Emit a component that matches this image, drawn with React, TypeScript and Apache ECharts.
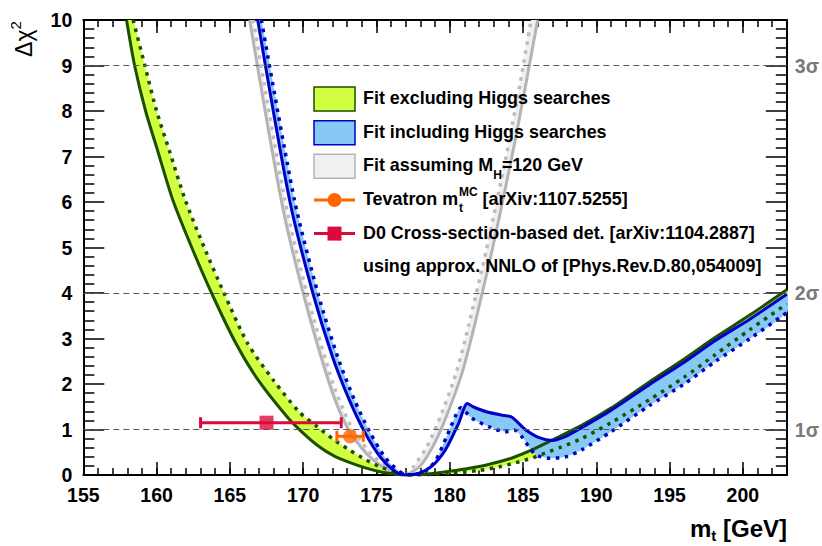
import React, { useEffect, useRef } from 'react';
import * as echarts from 'echarts';

const FONT = '"Liberation Sans", Arial, Helvetica, sans-serif';

// ---- data: [m_t (GeV), delta chi^2] ----
const greenSolid: number[][] = [
  [157.95, 10], [158.5, 9], [159.25, 8], [160.1, 7.1], [161.1, 6.05], [162.4, 5.0], [163.75, 4.0],
  [165.4, 2.9], [166.9, 2.1], [168.9, 1.28], [170.0, 0.92], [171.1, 0.62], [172.1, 0.42], [173.2, 0.27],
  [174.3, 0.15], [175.4, 0.06], [176.3, 0.015], [177.0, 0], [178.0, 0.01], [179.0, 0.04], [180.0, 0.08],
  [181.0, 0.13], [182.5, 0.22], [184.3, 0.38], [185.6, 0.55], [187.0, 0.77], [189.0, 1.09], [191.0, 1.47],
  [193.6, 2.04], [196.0, 2.55], [198.1, 3.02], [200.5, 3.52], [203.0, 4.07],
];
const greenDotted: number[][] = [
  [158.4, 10], [159.2, 9], [160.0, 8], [160.9, 7.1], [161.95, 6.05], [163.25, 5.0], [164.6, 4.0],
  [166.2, 2.9], [168.0, 2.07], [169.75, 1.38], [170.9, 1.08], [172.0, 0.8], [173.15, 0.55], [174.3, 0.33],
  [175.4, 0.16], [176.5, 0.05], [177.5, 0], [178.5, 0.01], [180.0, 0.04], [182.0, 0.1], [183.4, 0.18],
  [184.5, 0.27], [185.6, 0.37], [186.5, 0.48], [187.5, 0.6], [189.0, 0.8], [191.0, 1.15], [193.6, 1.65],
  [196.0, 2.15], [198.1, 2.64], [200.5, 3.2], [203.0, 3.76],
];
const blueSolid: number[][] = [
  [166.9, 10], [169.07, 6.05], [170.66, 4.0], [172.0, 2.6], [173.15, 1.65], [174.2, 0.94], [175.3, 0.38],
  [176.3, 0.07], [177.0, 0], [177.9, 0.04], [178.8, 0.2], [179.7, 0.55], [180.6, 1.13], [181.2, 1.57],
  [181.6, 1.5], [182.5, 1.39], [183.5, 1.32], [184.2, 1.28], [184.6, 1.17], [185.2, 0.99], [186.1, 0.82],
  [187.0, 0.76], [188.0, 0.86], [189.0, 1.04], [191.0, 1.42], [193.6, 1.98], [196.0, 2.48], [198.1, 2.95],
  [200.5, 3.43], [203.0, 3.97],
];
const blueDotted: number[][] = [
  [167.15, 10], [169.4, 6.05], [171.0, 4.0], [172.35, 2.6], [173.5, 1.65], [174.55, 0.94], [175.6, 0.38],
  [176.6, 0.07], [177.3, 0], [178.2, 0.05], [179.0, 0.3], [179.8, 0.85], [180.4, 1.3], [180.75, 1.48],
  [181.5, 1.25], [182.7, 1.06], [183.8, 0.95], [184.4, 0.99], [184.9, 0.85], [185.4, 0.62], [185.9, 0.44],
  [186.8, 0.37], [187.9, 0.4], [189.0, 0.55], [191.0, 0.95], [193.6, 1.52], [196.0, 2.0], [198.1, 2.49],
  [200.5, 3.0], [203.0, 3.57],
];
const graySolid: number[][] = [
  [166.35, 10], [168.5, 6.05], [170.0, 4.0], [171.8, 2.0], [173.0, 1.05], [174.3, 0.48], [175.4, 0.18],
  [176.2, 0.04], [176.8, 0], [177.9, 0.17], [178.8, 0.6], [179.6, 1.15], [180.8, 2.2], [181.7, 3.3],
  [182.9, 4.95], [183.6, 6.0], [184.4, 7.25], [185.2, 8.6], [186.0, 10],
];
const grayDotted: number[][] = [
  [166.6, 10], [168.75, 6.05], [170.25, 4.0], [172.05, 2.0], [173.3, 1.05], [174.6, 0.48], [175.7, 0.18],
  [176.5, 0.04], [177.0, 0], [177.5, 0.17], [178.4, 0.6], [179.2, 1.15], [180.4, 2.2], [181.3, 3.3],
  [182.5, 4.95], [183.2, 6.0], [184.0, 7.25], [184.8, 8.6], [185.55, 10],
];

const tevatronPoint = [173.2, 0.85];
const tevatronRange = [172.3, 174.1];
const d0Point = [167.5, 1.15];
const d0Range = [163.0, 172.6];

const sigmaLevels = [1, 4, 9];
const sigmaLabels = ['1σ', '2σ', '3σ'];

const xMin = 155;
const xMax = 203;
const xLabelMax = 200;

const legendTexts = [
  'Fit excluding Higgs searches',
  'Fit including Higgs searches',
  'Fit assuming M{sub|H}=120 GeV',
  'Tevatron m',
  'D0 Cross-section-based det. [arXiv:1104.2887]',
  'using approx. NNLO of [Phys.Rev.D.80,054009]',
];

// ---- styles ----
const C = {
  greenLine: '#1b5000',
  greenFill: '#d2ff3f',
  blueLine: '#0000c8',
  blueFill: '#86c8f6',
  grayLine: '#b4b4b4',
  grayDot: '#bdbdbd',
  grayFill: '#f0f0f0',
  orange: '#ff6600',
  red: '#dc0a3c',
};

function band(upper: number[][], lower: number[][], fill: string) {
  const poly = upper.concat(lower.slice().reverse());
  return {
    type: 'custom',
    xAxisIndex: 0,
    yAxisIndex: 0,
    clip: true,
    silent: true,
    z: 1,
    data: poly,
    encode: { x: 0, y: 1 },
    renderItem: (params: any, api: any) => {
      if (params.dataIndex !== 0) return null;
      const pts = poly.map((p) => api.coord(p));
      return { type: 'polygon', shape: { points: pts, smooth: 0.25 }, style: { fill, stroke: 'none' } };
    },
  };
}

function curve(data: number[][], color: string, width: number, dotted: boolean, extra: any = {}) {
  return {
    type: 'line',
    xAxisIndex: 0,
    yAxisIndex: 0,
    data,
    symbol: 'none',
    showSymbol: false,
    smooth: 0.25,
    clip: true,
    silent: true,
    z: 3,
    lineStyle: { color, width, type: dotted ? [3.5, 5.5] : 'solid', cap: 'butt' },
    ...extra,
  };
}

function errorBar(point: number[], range: number[], color: string) {
  return {
    type: 'custom',
    xAxisIndex: 0,
    yAxisIndex: 0,
    silent: true,
    z: 5,
    data: [[point[0], point[1], range[0], range[1]]],
    encode: { x: [0, 2, 3], y: 1 },
    renderItem: (params: any, api: any) => {
      const y = api.value(1);
      const a = api.coord([api.value(2), y]);
      const b = api.coord([api.value(3), y]);
      const h = 5.5;
      const st = { stroke: color, lineWidth: 3 };
      return {
        type: 'group',
        children: [
          { type: 'line', shape: { x1: a[0], y1: a[1], x2: b[0], y2: b[1] }, style: st },
          { type: 'line', shape: { x1: a[0], y1: a[1] - h, x2: a[0], y2: a[1] + h }, style: st },
          { type: 'line', shape: { x1: b[0], y1: b[1] - h, x2: b[0], y2: b[1] + h }, style: st },
        ],
      };
    },
  };
}

const tickLabel = { fontSize: 19.5, fontWeight: 700, color: '#000', fontFamily: FONT };
const frameLine = { show: true, lineStyle: { color: '#000', width: 2 } };

function xAxisDef(position: string, major: boolean, labels: boolean) {
  return {
    type: 'value',
    position,
    min: xMin,
    max: xMax,
    interval: major ? 5 : 1,
    axisLine: major ? frameLine : { show: false },
    axisTick: { show: true, inside: true, length: major ? 13 : 7, lineStyle: { color: '#000', width: 1.5 } },
    axisLabel: labels
      ? { ...tickLabel, margin: 10, formatter: (v: number) => (v % 5 === 0 && v <= xLabelMax ? String(v) : '') }
      : { show: false },
    splitLine: { show: false },
  };
}

function yAxisDef(position: string, labels: boolean) {
  return {
    type: 'value',
    position,
    min: 0,
    max: 10,
    interval: 1,
    axisLine: frameLine,
    axisTick: { show: true, inside: true, length: 21, lineStyle: { color: '#000', width: 1.5 } },
    minorTick: { show: true, splitNumber: 5, length: 11, lineStyle: { color: '#000', width: 1.5 } },
    axisLabel: labels
      ? { ...tickLabel, margin: 11 }
      : {
          ...tickLabel,
          color: '#7a7a7a',
          margin: 8,
          formatter: (v: number) => {
            const i = sigmaLevels.indexOf(v);
            return i >= 0 ? sigmaLabels[i] : '';
          },
        },
    splitLine: { show: false },
    minorSplitLine: { show: false },
  };
}

const rowY = [99, 132.7, 166.3, 200, 233.6, 267.2];
const boxX = 314;
const boxW = 41;
const boxH = 24;
const textX = 363;
const legFont = 17.9;
const ZG = 100;

const legendText = (i: number, text: string, extra: any = {}) => ({
  type: 'text',
  x: textX,
  y: rowY[i] - 1,
  z: ZG,
  silent: true,
  style: {
    text,
    fontSize: legFont,
    fontWeight: 'bold',
    fontFamily: FONT,
    fill: '#000',
    align: 'left',
    verticalAlign: 'middle',
    ...extra,
  },
});

const graphic: any[] = [
  // y-axis title
  {
    type: 'text',
    x: 24,
    y: 39,
    z: ZG,
    rotation: Math.PI / 2,
    silent: true,
    style: {
      text: 'Δχ{sup|2}',
      fontSize: 23,
      fontFamily: FONT,
      fill: '#000',
      align: 'center',
      verticalAlign: 'middle',
      lineHeight: 32,
      rich: { sup: { fontSize: 15, fontFamily: FONT, verticalAlign: 'top', lineHeight: 32 } },
    },
  },
  // x-axis title
  {
    type: 'text',
    x: 787,
    y: 528,
    z: ZG,
    silent: true,
    style: {
      text: 'm{sub|t} [GeV]',
      fontSize: 24,
      fontWeight: 'bold',
      fontFamily: FONT,
      fill: '#000',
      align: 'right',
      verticalAlign: 'middle',
      lineHeight: 30,
      rich: { sub: { fontSize: 15, fontWeight: 'bold', fontFamily: FONT, verticalAlign: 'bottom', lineHeight: 30 } },
    },
  },
  // legend boxes
  { type: 'rect', z: ZG, silent: true, shape: { x: boxX, y: rowY[0] - boxH / 2, width: boxW, height: boxH }, style: { fill: C.greenFill, stroke: C.greenLine, lineWidth: 1.5 } },
  { type: 'rect', z: ZG, silent: true, shape: { x: boxX, y: rowY[1] - boxH / 2, width: boxW, height: boxH }, style: { fill: C.blueFill, stroke: C.blueLine, lineWidth: 1.5 } },
  { type: 'rect', z: ZG, silent: true, shape: { x: boxX, y: rowY[2] - boxH / 2, width: boxW, height: boxH }, style: { fill: C.grayFill, stroke: C.grayLine, lineWidth: 1.5 } },
  { type: 'line', z: ZG, silent: true, shape: { x1: boxX, y1: rowY[3], x2: boxX + boxW, y2: rowY[3] }, style: { stroke: C.orange, lineWidth: 3 } },
  { type: 'circle', z: ZG, silent: true, shape: { cx: boxX + boxW / 2, cy: rowY[3], r: 7 }, style: { fill: C.orange } },
  { type: 'line', z: ZG, silent: true, shape: { x1: boxX, y1: rowY[4], x2: boxX + boxW, y2: rowY[4] }, style: { stroke: C.red, lineWidth: 3 } },
  { type: 'rect', z: ZG, silent: true, shape: { x: boxX + boxW / 2 - 7, y: rowY[4] - 7, width: 14, height: 14 }, style: { fill: C.red } },
  legendText(0, legendTexts[0]),
  legendText(1, legendTexts[1]),
  legendText(2, legendTexts[2], {
    lineHeight: 32,
    rich: { sub: { fontSize: 12, fontWeight: 'bold', fontFamily: FONT, verticalAlign: 'bottom', lineHeight: 32 } },
  }),
  legendText(3, legendTexts[3]),
  {
    type: 'text', x: 459, y: rowY[3] + 8, z: ZG, silent: true,
    style: { text: 't', fontSize: 12, fontWeight: 'bold', fontFamily: FONT, fill: '#000', align: 'left', verticalAlign: 'middle' },
  },
  {
    type: 'text', x: 459, y: rowY[3] - 8, z: ZG, silent: true,
    style: { text: 'MC', fontSize: 12, fontWeight: 'bold', fontFamily: FONT, fill: '#000', align: 'left', verticalAlign: 'middle' },
  },
  {
    type: 'text', x: 482.5, y: rowY[3] - 1, z: ZG, silent: true,
    style: { text: '[arXiv:1107.5255]', fontSize: legFont, fontWeight: 'bold', fontFamily: FONT, fill: '#000', align: 'left', verticalAlign: 'middle' },
  },
  legendText(4, legendTexts[4]),
  legendText(5, legendTexts[5]),
];

const option: any = {
  animation: false,
  backgroundColor: '#fff',
  textStyle: { fontFamily: FONT },
  grid: { left: 83.3, right: 34.3, top: 20, bottom: 71, containLabel: false },
  xAxis: [
    xAxisDef('bottom', true, true),
    xAxisDef('bottom', false, false),
    xAxisDef('top', true, false),
    xAxisDef('top', false, false),
  ],
  yAxis: [yAxisDef('left', true), yAxisDef('right', false)],
  graphic,
  series: [
    band(graySolid, grayDotted, C.grayFill),
    band(greenSolid, greenDotted, C.greenFill),
    band(blueSolid, blueDotted, C.blueFill),
    curve(graySolid, C.grayLine, 3, false, {
      markLine: {
        silent: true,
        symbol: 'none',
        label: { show: false },
        lineStyle: { color: '#5a5a5a', width: 1, type: [6, 4] },
        data: sigmaLevels.map((v) => ({ yAxis: v })),
      },
    }),
    curve(grayDotted, C.grayDot, 3.5, true),
    curve(greenSolid, C.greenLine, 3, false),
    curve(greenDotted, C.greenLine, 3.5, true),
    curve(blueSolid, C.blueLine, 3, false),
    curve(blueDotted, C.blueLine, 3.5, true),
    errorBar(d0Point, d0Range, C.red),
    errorBar(tevatronPoint, tevatronRange, C.orange),
    {
      type: 'scatter', silent: true, z: 6, symbol: 'rect', symbolSize: 14,
      itemStyle: { color: C.red }, data: [d0Point],
    },
    {
      type: 'scatter', silent: true, z: 6, symbol: 'circle', symbolSize: 14,
      itemStyle: { color: C.orange }, data: [tevatronPoint],
    },
  ],
};

export default function App() {
  const ref = useRef<HTMLDivElement>(null);
  useEffect(() => {
    const chart = echarts.init(ref.current as HTMLDivElement, null, { renderer: 'svg' });
    chart.setOption(option);
    return () => chart.dispose();
  }, []);
  return (
    <div
      ref={ref}
      style={{ position: 'absolute', left: 0, top: 0, width: 822, height: 546, background: '#fff' }}
    />
  );
}
